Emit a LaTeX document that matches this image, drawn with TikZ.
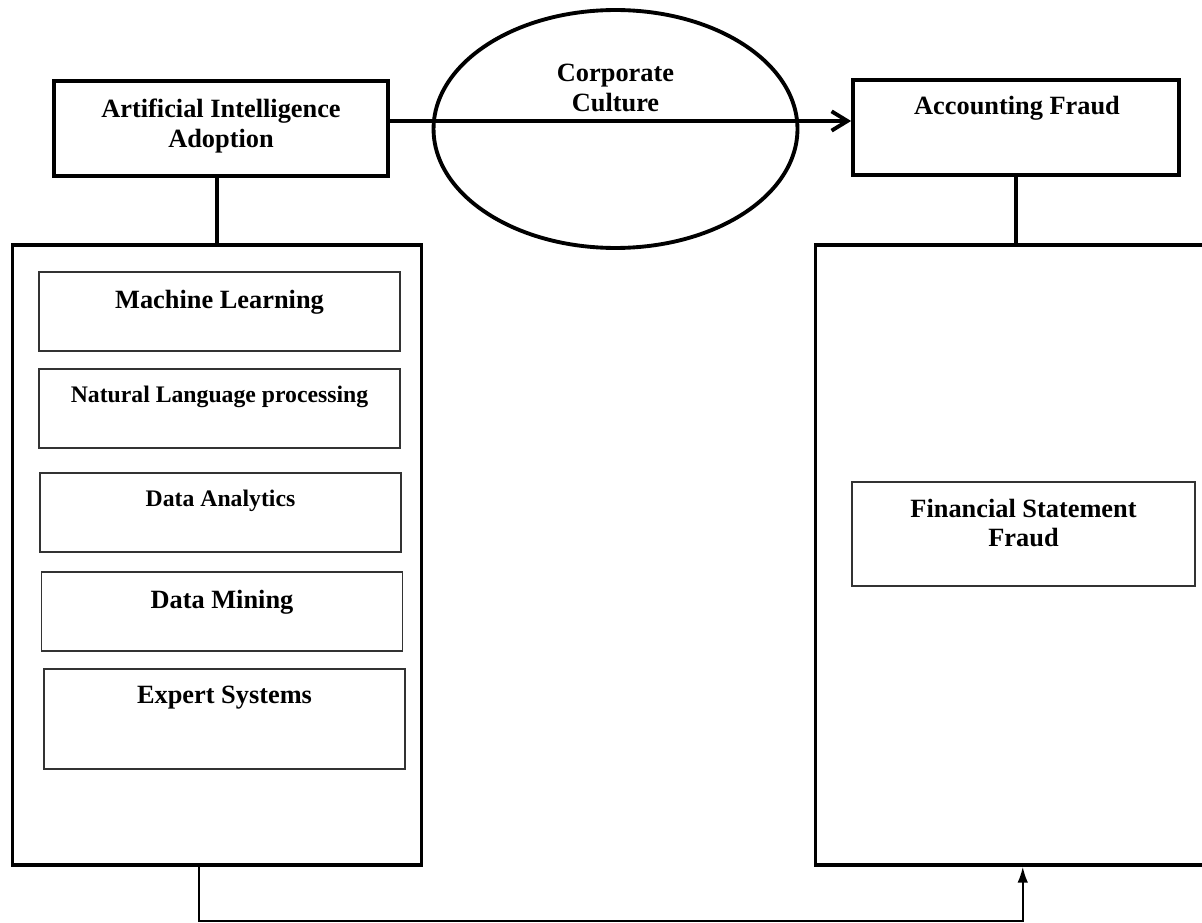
\documentclass[tikz,border=0pt]{standalone}
\usepackage{fontspec}
\setmainfont{Liberation Serif}
\usetikzlibrary{shapes.geometric,arrows.meta}
\tikzset{
  thickbox/.style={draw=black, line width=2.2pt, inner sep=0pt, fill=none},
  thinbox/.style={draw=black!80, line width=0.8pt, inner sep=0pt, minimum width=7.22cm, minimum height=1.58cm},
  lbl/.style={align=center, inner sep=0pt, font=\bfseries\fontsize{15pt}{17pt}\selectfont},
  lblsmall/.style={align=center, inner sep=0pt, font=\bfseries\fontsize{13.5pt}{16pt}\selectfont},
  conn/.style={draw=black, line width=2.2pt},
  mainarrow/.style={draw=black, line width=2.2pt, -{Straight Barb[length=9pt,width=11pt]}},
  feedback/.style={draw=black, line width=1pt, -{Latex[length=9pt,width=6pt]}},
}
\begin{document}
\begin{tikzpicture}[x=0.02cm,y=-0.02cm]
\useasboundingbox (0,0) rectangle (1202,922);
% top row
\node[thickbox, minimum width=6.68cm, minimum height=1.9cm] (ai) at (221,128.5) {};
\node[lbl] (ait) at (221,126) {Artificial Intelligence\\Adoption};
\node[ellipse, draw=black, line width=2.2pt, inner sep=0pt, minimum width=7.28cm, minimum height=4.76cm] (cc) at (615.5,129) {};
\node[lbl] (cct) at (615.5,88) {Corporate\\Culture};
\node[thickbox, minimum width=6.52cm, minimum height=1.9cm] (af) at (1016,127.5) {};
\node[lbl] (aft) at (1017,108) {Accounting Fraud};
% big boxes
\node[thickbox, minimum width=8.18cm, minimum height=12.4cm] (lb) at (217,555) {};
\node[thickbox, minimum width=8.29cm, minimum height=12.4cm] (rb) at (1022.75,555) {};
% inner boxes left
\node[thinbox] (ml) at (219.5,311.5) {};
\node[lbl] (mlt) at (219.5,302) {Machine Learning};
\node[thinbox] (nlp) at (219.5,408.5) {};
\node[lblsmall] (nlpt) at (219.5,397) {Natural Language processing};
\node[thinbox] (da) at (220.5,512.5) {};
\node[lblsmall] (dat) at (220.5,501) {Data Analytics};
\node[thinbox] (dm) at (222,611.5) {};
\node[lbl] (dmt) at (222,602) {Data Mining};
\node[thinbox, minimum height=2cm] (es) at (224.5,719) {};
\node[lbl] (est) at (224.5,698) {Expert Systems};
% inner box right
\node[thinbox, minimum width=6.86cm, minimum height=2.08cm] (fsf) at (1023.5,534) {};
\node[lbl] (fsft) at (1023.5,523) {Financial Statement\\Fraud};
% connectors
\draw[conn] (lb.north |- ai.south) -- (lb.north);
\draw[conn] (af.south) -- (af.south |- rb.north);
\draw[mainarrow] ([yshift=0.15cm]ai.east) coordinate (p) -- (p -| af.west);
\draw[feedback] ([xshift=-0.36cm]lb.south) -- ++(0,54) -| (rb.south);
\end{tikzpicture}
\end{document}
